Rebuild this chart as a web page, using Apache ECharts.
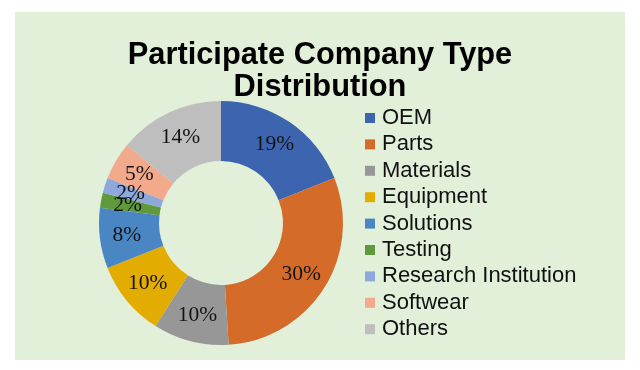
<!DOCTYPE html>
<html>
<head>
<meta charset="utf-8">
<script src="https://cdn.jsdelivr.net/npm/echarts@6/dist/echarts.min.js"></script>
<style>
html,body{margin:0;padding:0;background:#ffffff;}
#chart{width:640px;height:370px;}
</style>
</head>
<body>
<div id="chart"></div>
<script>
var categories = ['OEM', 'Parts', 'Materials', 'Equipment', 'Solutions', 'Testing', 'Research Institution', 'Softwear', 'Others'];
var values = [19, 30, 10, 10, 8, 2, 2, 5, 14];
var colors = ['#3D64AE', '#D46B29', '#979797', '#E3AC00', '#4A86C4', '#5E9A3C', '#8EA8DC', '#F2A98C', '#BEBEBE'];
var titleText = 'Participate Company Type\nDistribution';

var data = categories.map(function (c, i) {
  return { name: c, value: values[i], itemStyle: { color: colors[i] } };
});

var chart = echarts.init(document.getElementById('chart'), null, { renderer: 'canvas' });
chart.setOption({
  backgroundColor: '#ffffff',
  animation: false,
  graphic: [{
    type: 'rect',
    z: -10,
    silent: true,
    shape: { x: 15, y: 12, width: 610, height: 348 },
    style: { fill: '#E2EFD9' }
  }],
  title: {
    text: titleText,
    left: 'center',
    top: 35,
    textStyle: {
      fontFamily: 'Liberation Sans, Arial, sans-serif',
      fontWeight: 'bold',
      fontSize: 30.8,
      lineHeight: 32,
      color: '#000000'
    }
  },
  legend: {
    orient: 'vertical',
    left: 360,
    top: 102,
    icon: 'rect',
    itemWidth: 10,
    itemHeight: 10,
    itemGap: 4.4,
    data: categories,
    textStyle: {
      fontFamily: 'Liberation Sans, Arial, sans-serif',
      fontSize: 22,
      lineHeight: 22,
      color: '#111111',
      padding: [0, 0, 0, 2]
    }
  },
  series: [{
    type: 'pie',
    center: [221, 223],
    radius: [62, 122],
    startAngle: 90,
    clockwise: true,
    avoidLabelOverlap: false,
    labelLayout: { hideOverlap: false },
    labelLine: { show: false },
    label: {
      show: true,
      position: 'inside',
      formatter: '{c}%',
      fontFamily: 'Liberation Serif, Times New Roman, serif',
      fontSize: 21.5,
      color: '#141414',
      textBorderWidth: 0
    },
    emphasis: { disabled: true },
    data: data
  }]
});
</script>
</body>
</html>
